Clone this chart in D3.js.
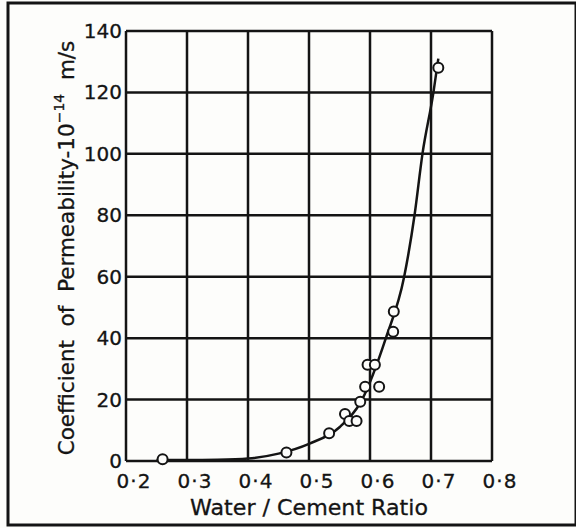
<!DOCTYPE html>
<html>
<head>
<meta charset="utf-8">
<script src="https://cdn.jsdelivr.net/npm/d3@7"></script>
<style>
  body { margin: 0; background: #fdfdfb; }
  svg { display: block; font-family: "DejaVu Sans", sans-serif; }
  text { white-space: pre; }
</style>
</head>
<body>
<svg id="vis"></svg>
<script>
// measured points (w/c ratio, permeability 10^-14 m/s)
const ratioPts = [0.26, 0.463, 0.533, 0.559, 0.566, 0.578, 0.584, 0.592, 0.596, 0.608, 0.615, 0.638, 0.639, 0.712];
const permPts  = [0.6, 2.8, 9.0, 15.3, 13.0, 13.0, 19.3, 24.2, 31.3, 31.3, 24.2, 42.1, 48.7, 128];

// fitted curve
const curveRatio = [0.25, 0.3, 0.35, 0.4, 0.45, 0.5, 0.55, 0.587, 0.626, 0.656, 0.673, 0.686, 0.704, 0.712];
const curvePerm  = [0.3, 0.3, 0.4, 0.8, 2.4, 5.6, 11, 20, 40, 60, 80, 100, 120, 131];

const xTicks = [0.2, 0.3, 0.4, 0.5, 0.6, 0.7, 0.8];
const yTicks = [0, 20, 40, 60, 80, 100, 120, 140];

const width = 576, height = 528;
const svg = d3.select("#vis").attr("width", width).attr("height", height);

const x = d3.scaleLinear().domain([0.2, 0.8]).range([126, 492]);
const y = d3.scaleLinear().domain([0, 140]).range([461, 31]);

const ink = "#141414";

// outer frame of the figure
svg.append("rect")
  .attr("x", 8).attr("y", 3)
  .attr("width", 568).attr("height", 522)
  .attr("fill", "none").attr("stroke", ink).attr("stroke-width", 3);

// grid
svg.append("g").selectAll("line").data(xTicks).join("line")
  .attr("x1", d => x(d)).attr("x2", d => x(d))
  .attr("y1", y(0)).attr("y2", y(140))
  .attr("stroke", ink).attr("stroke-width", 2.5);

svg.append("g").selectAll("line").data(yTicks).join("line")
  .attr("x1", x(0.2)).attr("x2", x(0.8))
  .attr("y1", d => y(d)).attr("y2", d => y(d))
  .attr("stroke", ink).attr("stroke-width", 2.5);

// tick labels
svg.append("g").selectAll("text").data(xTicks).join("text")
  .attr("x", d => x(d) + 8).attr("y", 488)
  .attr("text-anchor", "middle")
  .style("font-size", "20px").style("letter-spacing", "1px")
  .attr("fill", ink).attr("stroke", ink).attr("stroke-width", 0.3)
  .text(d => d.toFixed(1).replace(".", "·"));

svg.append("g").selectAll("text").data(yTicks).join("text")
  .attr("x", 122).attr("y", d => y(d) + 7)
  .attr("text-anchor", "end")
  .style("font-size", "20px")
  .attr("fill", ink).attr("stroke", ink).attr("stroke-width", 0.3)
  .text(d => d);

// axis titles
svg.append("text")
  .attr("x", 309).attr("y", 515)
  .attr("text-anchor", "middle")
  .attr("textLength", 238).attr("lengthAdjust", "spacingAndGlyphs")
  .style("font-size", "21px")
  .attr("fill", ink).attr("stroke", ink).attr("stroke-width", 0.3)
  .text("Water / Cement Ratio");

const yt = svg.append("text")
  .attr("transform", "translate(74,248) rotate(-90)")
  .attr("text-anchor", "middle")
  .style("font-size", "21.5px")
  .attr("fill", ink).attr("stroke", ink).attr("stroke-width", 0.3);
yt.append("tspan").text("Coefficient  of  Permeability-10");
yt.append("tspan").attr("dy", -10).style("font-size", "14px").text("−14");
yt.append("tspan").attr("dy", 10).text("  m/s");

// curve
const line = d3.line()
  .x(d => x(d[0])).y(d => y(d[1]))
  .curve(d3.curveMonotoneX);

svg.append("path")
  .datum(d3.zip(curveRatio, curvePerm))
  .attr("d", line)
  .attr("fill", "none").attr("stroke", ink).attr("stroke-width", 2.5);

// data points
svg.append("g").selectAll("circle").data(d3.zip(ratioPts, permPts)).join("circle")
  .attr("cx", d => x(d[0])).attr("cy", d => y(d[1]))
  .attr("r", 5)
  .attr("fill", "#fdfdfb").attr("stroke", ink).attr("stroke-width", 2);
</script>
</body>
</html>
